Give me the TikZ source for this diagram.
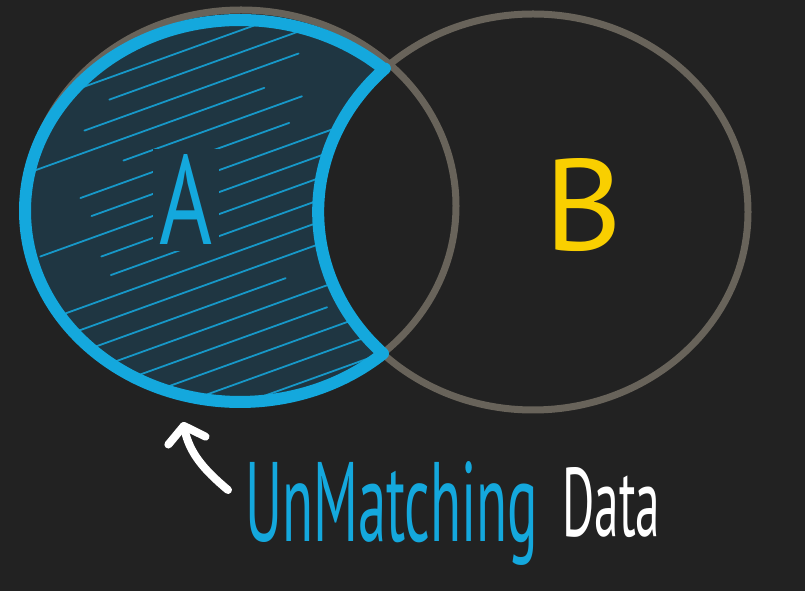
\documentclass[tikz,border=0pt]{standalone}
\usepackage{fontspec}
\newfontfamily\hand{PT Sans}
\usetikzlibrary{arrows.meta,calc}
\definecolor{bg}{HTML}{222222}
\definecolor{ring}{HTML}{68635A}
\definecolor{cblue}{HTML}{14A8DD}
\definecolor{cfill}{HTML}{1F3642}
\definecolor{hatchc}{HTML}{1798C8}
\definecolor{cyellow}{HTML}{F9CF00}
\tikzset{
  ringline/.style={draw=ring, line width=7pt},
  blueline/.style={draw=cblue, line width=12pt, line cap=round, line join=round},
  hatchline/.style={draw=hatchc, line width=1.8pt, line cap=round},
  letter/.style={inner sep=0pt, font=\hand},
  arrowline/.style={draw=white, line width=8pt, line cap=round,
    -{Straight Barb[length=15pt, width=38pt, round]}}
}
\begin{document}
\begin{tikzpicture}[x=1pt,y=1pt]
\fill[bg] (0,0) rectangle (805,591);
\useasboundingbox (0,0) rectangle (805,591);
% centres
\coordinate (Ac) at (240,380);
\coordinate (Bc) at (533,379);
% grey rings
\draw[ringline] (241,385) ellipse [x radius=215pt, y radius=196pt];
\draw[ringline] (Bc) ellipse [x radius=215pt, y radius=198pt];
% crescent fill
\fill[cfill] (Ac) ++(47.9:215pt and 191pt)
  arc[start angle=47.9, end angle=311.7, x radius=215pt, y radius=191pt]
  arc[start angle=225.7, end angle=133.6, x radius=215pt, y radius=198pt] -- cycle;
% hatching
\begin{scope}
\clip (Ac) ++(47.9:215pt and 191pt)
  arc[start angle=47.9, end angle=311.7, x radius=215pt, y radius=191pt]
  arc[start angle=225.7, end angle=133.6, x radius=215pt, y radius=198pt] -- cycle;
\pgfmathsetseed{11}
\foreach \i in {0,...,19}{
  \pgfmathsetmacro\c{100+22*\i}
  \pgfmathsetmacro\xs{20+110*rnd}
  \pgfmathsetmacro\xe{250+200*rnd}
  \draw[hatchline] (\xs,{\c+0.36*\xs}) -- (\xe,{\c+0.36*\xe});
}
\end{scope}
% crescent outline
\draw[blueline] (Ac) ++(47.9:215pt and 191pt)
  arc[start angle=47.9, end angle=311.7, x radius=215pt, y radius=191pt]
  arc[start angle=225.7, end angle=133.6, x radius=215pt, y radius=198pt];
% letters
\node[letter, fill=cfill, inner sep=6pt, text=cblue] (A) at (186,391)
  {\resizebox{53pt}{90pt}{A}};
\node[letter, text=cyellow] (B) at (584,386) {\resizebox{78pt}{92pt}{B}};
% caption
\node[letter, anchor=base west, text=cblue] (um) at (245,49)
  {\resizebox{293pt}{80pt}{UnMatching}};
\node[letter, anchor=base west, text=white] (data) at (562,54)
  {\resizebox{98pt}{69pt}{Data}};
% arrow
\coordinate (arrowtail) at (228,101);
\coordinate (arrowtip) at (183,169);
\draw[arrowline] (arrowtail) to[out=140, in=-78] (arrowtip);
\end{tikzpicture}
\end{document}
